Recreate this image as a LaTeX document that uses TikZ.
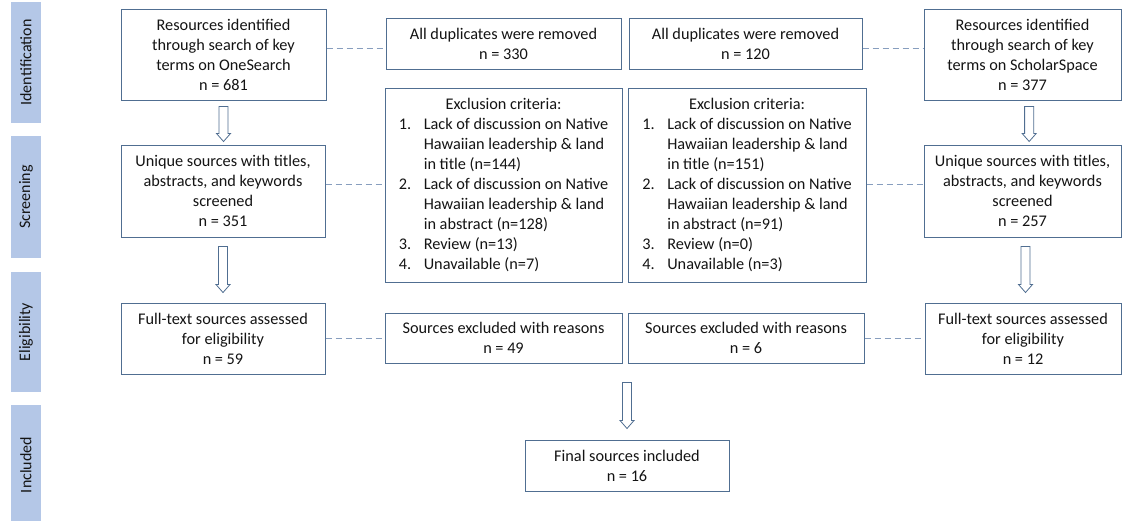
\documentclass[tikz,border=0pt]{standalone}
\usepackage{fontspec}
\setmainfont{Carlito}
\usepackage{xcolor}
\usepackage{tikz}
\usetikzlibrary{calc}

\definecolor{boxblue}{RGB}{80,110,145}
\definecolor{dashblue}{RGB}{135,158,190}
\definecolor{phasefill}{RGB}{180,199,231}
\definecolor{textgray}{RGB}{20,20,20}

\tikzset{
  stepbox/.style={draw=boxblue, line width=0.75pt, fill=white, align=center, inner sep=2pt,
    text=textgray, font=\fontsize{12.2}{15}\selectfont},
  phase/.style={fill=phasefill, inner sep=0pt, text=textgray, font=\fontsize{12}{14}\selectfont,
    rotate=90, minimum height=22.5pt},
  link/.style={draw=dashblue, line width=0.75pt, dash pattern=on 4.5pt off 3pt},
  arrowline/.style={draw=boxblue, line width=0.6pt, fill=white, line join=miter},
}

\newcommand{\hollowarrow}[2]{%
  \draw[arrowline] let \p1=(#1), \p2=(#2) in
    (\x1-3.4pt,\y1) -- (\x1+3.4pt,\y1) -- (\x1+3.4pt,\y2+6pt) -- (\x1+5.25pt,\y2+6pt)
    -- (\x1,\y2) -- (\x1-5.25pt,\y2+6pt) -- (\x1-3.4pt,\y2+6pt) -- cycle;}

\begin{document}
\begin{tikzpicture}[x=0.75pt,y=-0.75pt]
\useasboundingbox (0,0) rectangle (1122,521);
%Phase bars
\node[phase, minimum width=90.75pt] (idf) at (26,62.5) {Identification};
\node[phase, minimum width=91.5pt] (scr) at (26,197) {Screening};
\node[phase, minimum width=90pt] (elg) at (26,332) {Eligibility};
\node[phase, minimum width=90.75pt] (inc) at (26,465) {Included};
%Left column (OneSearch)
\node[stepbox, minimum width=153.75pt, minimum height=68.25pt] (os1) at (223.5,54.5)
  {Resources identified\\through search of key\\terms on OneSearch\\n = 681};
\node[stepbox, minimum width=153pt, minimum height=69pt] (os2) at (223,191)
  {Unique sources with titles,\\abstracts, and keywords\\screened\\n = 351};
\node[stepbox, minimum width=153pt, minimum height=53.25pt] (os3) at (223,338.5)
  {Full-text sources assessed\\for eligibility\\n = 59};
%Right column (ScholarSpace)
\node[stepbox, minimum width=147.75pt, minimum height=68.25pt] (ss1) at (1022.5,54.5)
  {Resources identified\\through search of key\\terms on ScholarSpace\\n = 377};
\node[stepbox, minimum width=147.75pt, minimum height=69pt] (ss2) at (1022.5,191)
  {Unique sources with titles,\\abstracts, and keywords\\screened\\n = 257};
\node[stepbox, minimum width=147pt, minimum height=53.25pt] (ss3) at (1023,338.5)
  {Full-text sources assessed\\for eligibility\\n = 12};
%Middle boxes
\node[stepbox, minimum width=176.25pt, minimum height=38.25pt] (dup1) at (503.5,43.5)
  {All duplicates were removed\\n = 330};
\node[stepbox, minimum width=174.75pt, minimum height=38.25pt] (dup2) at (745.5,43.5)
  {All duplicates were removed\\n = 120};
\node[stepbox, minimum width=177.75pt, minimum height=145.5pt] (exc1) at (503.5,185)
  {\begin{tabular}{@{}p{18.75pt}@{}l@{}}
   \multicolumn{2}{c}{Exclusion criteria:}\\
   1. & Lack of discussion on Native\\
      & Hawaiian leadership \& land\\
      & in title (n=144)\\
   2. & Lack of discussion on Native\\
      & Hawaiian leadership \& land\\
      & in abstract (n=128)\\
   3. & Review (n=13)\\
   4. & Unavailable (n=7)
   \end{tabular}};
\node[stepbox, minimum width=178.5pt, minimum height=145.5pt] (exc2) at (747,185)
  {\begin{tabular}{@{}p{18.75pt}@{}l@{}}
   \multicolumn{2}{c}{Exclusion criteria:}\\
   1. & Lack of discussion on Native\\
      & Hawaiian leadership \& land\\
      & in title (n=151)\\
   2. & Lack of discussion on Native\\
      & Hawaiian leadership \& land\\
      & in abstract (n=91)\\
   3. & Review (n=0)\\
   4. & Unavailable (n=3)
   \end{tabular}};
\node[stepbox, minimum width=177.75pt, minimum height=37.5pt] (rsn1) at (503.5,338)
  {Sources excluded with reasons\\n = 49};
\node[stepbox, minimum width=177pt, minimum height=37.5pt] (rsn2) at (746,338)
  {Sources excluded with reasons\\n = 6};
\node[stepbox, minimum width=153pt, minimum height=38.25pt] (final) at (627,465.5)
  {Final sources included\\n = 16};
%Dashed links
\coordinate (r1) at (0,48);
\coordinate (r2) at (0,184);
\draw[link] (os1.east |- r1) -- (dup1.west |- r1);
\draw[link] (dup2.east |- r1) -- (ss1.west |- r1);
\draw[link] (os2.east |- r2) -- (exc1.west |- r2);
\draw[link] (exc2.east |- r2) -- (ss2.west |- r2);
\draw[link] (os3.east |- rsn1.west) -- (rsn1.west);
\draw[link] (rsn2.east) -- (rsn2.east -| ss3.west);
%Block arrows
\coordinate (mid) at (final.north |- rsn1.south);
\hollowarrow{[yshift=-4.5pt]os1.south}{[yshift=2.25pt]os2.north}
\hollowarrow{[yshift=-6.75pt]os2.south}{[yshift=7.5pt]os3.north}
\hollowarrow{[xshift=5pt,yshift=-4.5pt]ss1.south}{[xshift=5pt,yshift=2.25pt]ss2.north}
\hollowarrow{[xshift=2.25pt,yshift=-6.75pt]ss2.south}{[xshift=2.25pt,yshift=7.5pt]ss3.north}
\hollowarrow{[yshift=-14.25pt]mid}{[yshift=8.25pt]final.north}
\end{tikzpicture}
\end{document}
